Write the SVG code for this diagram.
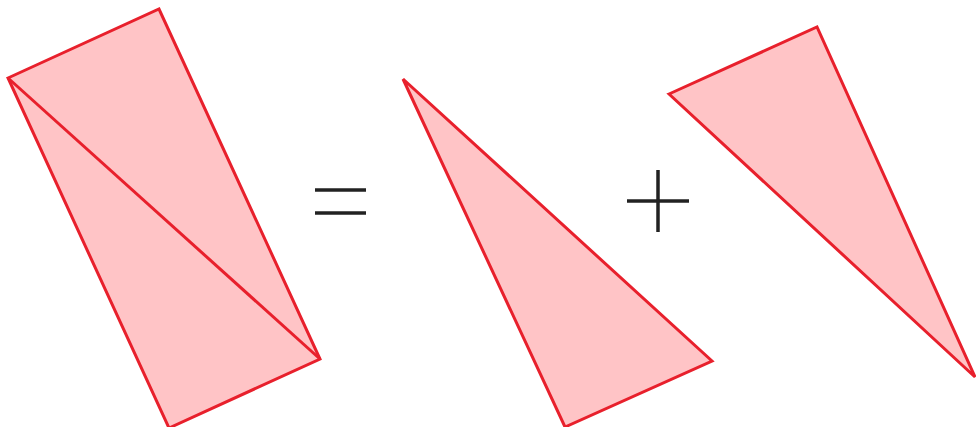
<svg xmlns="http://www.w3.org/2000/svg" width="976" height="427" viewBox="0 0 976 427">
<style>
.shape{fill:#ffc4c6;stroke:#e8202c;stroke-width:3;stroke-linejoin:miter}
.sign{stroke:#222;stroke-width:3.5;fill:none}
</style>
<rect width="976" height="427" fill="#fff"/>
<g id="rectangle">
<polygon class="shape" points="8,78 159,9 320,359 169,428"/>
<line x1="8" y1="78" x2="320" y2="359" stroke="#e8202c" stroke-width="3"/>
</g>
<g id="equals">
<line class="sign" x1="315" y1="190" x2="366" y2="190"/>
<line class="sign" x1="315" y1="213" x2="366" y2="213"/>
</g>
<g id="triangle1">
<polygon class="shape" points="403,79 712,361 565,427"/>
</g>
<g id="plus">
<line class="sign" x1="627" y1="201" x2="689" y2="201"/>
<line class="sign" x1="658" y1="170" x2="658" y2="232"/>
</g>
<g id="triangle2">
<polygon class="shape" points="669,94 817,27 975,377"/>
</g>
</svg>
